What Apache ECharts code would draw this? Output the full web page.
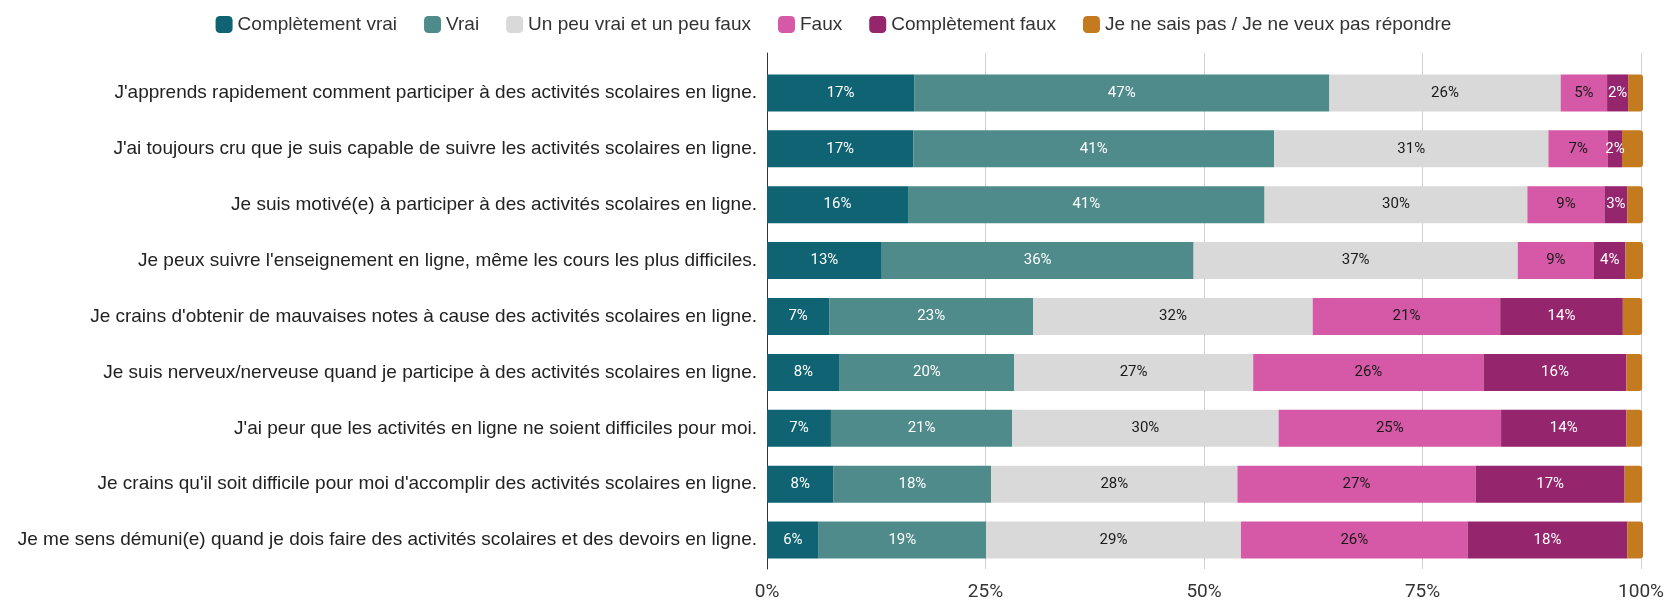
<!DOCTYPE html>
<html>
<head>
<meta charset="utf-8">
<script src="https://cdn.jsdelivr.net/npm/echarts@6/dist/echarts.min.js"></script>
<style>
  html, body { margin: 0; padding: 0; background: #fff; }
  #chart { width: 1667px; height: 602px; }
</style>
</head>
<body>
<div id="chart"></div>
<script>
// Statements (top to bottom)
const statements = [
  "J'apprends rapidement comment participer à des activités scolaires en ligne.",
  "J'ai toujours cru que je suis capable de suivre les activités scolaires en ligne.",
  "Je suis motivé(e) à participer à des activités scolaires en ligne.",
  "Je peux suivre l'enseignement en ligne, même les cours les plus difficiles.",
  "Je crains d'obtenir de mauvaises notes à cause des activités scolaires en ligne.",
  "Je suis nerveux/nerveuse quand je participe à des activités scolaires en ligne.",
  "J'ai peur que les activités en ligne ne soient difficiles pour moi.",
  "Je crains qu'il soit difficile pour moi d'accomplir des activités scolaires en ligne.",
  "Je me sens démuni(e) quand je dois faire des activités scolaires et des devoirs en ligne."
];

// Answer shares (%) per statement
const completementVrai = [16.8, 16.7, 16.1, 13.1, 7.1, 8.3, 7.3, 7.6, 5.9];
const vrai             = [47.4, 41.2, 40.7, 35.6, 23.3, 19.9, 20.7, 18.0, 19.1];
const unPeu            = [26.4, 31.3, 30.0, 37.0, 31.9, 27.3, 30.4, 28.1, 29.1];
const faux             = [5.3, 6.8, 8.8, 8.7, 21.4, 26.3, 25.4, 27.2, 25.9];
const completementFaux = [2.4, 1.6, 2.6, 3.6, 14.0, 16.3, 14.3, 17.0, 18.2];
const nsp              = [1.7, 2.5, 1.8, 2.2, 2.2, 1.8, 1.8, 2.0, 1.8];

const seriesNames = [
  "Complètement vrai",
  "Vrai",
  "Un peu vrai et un peu faux",
  "Faux",
  "Complètement faux",
  "Je ne sais pas / Je ne veux pas répondre"
];

const xTicks = [0, 25, 50, 75, 100];

const palette = ["#0f6372", "#4f8b8b", "#d9d9d9", "#d659a8", "#95256d", "#c47a1e"];
const labelColors = ["#ffffff", "#ffffff", "#1a1a1a", "#1a1a1a", "#ffffff", "#1a1a1a"];
const seriesData = [completementVrai, vrai, unPeu, faux, completementFaux, nsp];

const chart = echarts.init(document.getElementById('chart'), null, { renderer: 'canvas' });

const barSeries = seriesData.map((data, i) => ({
  name: seriesNames[i],
  type: 'bar',
  stack: 'total',
  xAxisIndex: 0,
  yAxisIndex: 0,
  barWidth: 37,
  data: data,
  itemStyle: {
    color: palette[i],
    borderRadius: i === 5 ? [0, 3, 3, 0] : 0
  },
  label: {
    show: i !== 5,
    position: 'inside',
    color: labelColors[i],
    fontFamily: 'Roboto',
    fontSize: 15,
    formatter: p => Math.round(p.value) + '%'
  },
  emphasis: { disabled: true },
  z: 3
}));

chart.setOption({
  animation: false,
  backgroundColor: '#ffffff',
  color: palette,
  legend: {
    top: 10,
    left: 'center',
    itemWidth: 17,
    itemHeight: 17,
    itemGap: 27,
    icon: 'roundRect',
    textStyle: { fontFamily: 'Liberation Sans', fontSize: 19, color: '#333' },
    data: seriesNames
  },
  grid: [
    // bars
    { left: 767, right: 24, top: 65, height: 503, containLabel: false },
    // frame: gridlines and axes extending slightly beyond the bars
    { left: 767, right: 24, top: 53, height: 524, containLabel: false }
  ],
  xAxis: [
    {
      gridIndex: 0, type: 'value', min: 0, max: 100, interval: 25,
      axisLine: { show: false }, axisTick: { show: false },
      axisLabel: { show: false }, splitLine: { show: false }
    },
    {
      gridIndex: 1, type: 'value', min: 0, max: 100, interval: 25,
      axisLine: { show: false }, axisTick: { show: false },
      splitLine: { show: true, lineStyle: { color: '#d0d0d0', width: 1 } },
      axisLabel: {
        margin: 14,
        fontFamily: 'Roboto', fontSize: 19, color: '#333',
        formatter: v => (xTicks.includes(v) ? v + '%' : '')
      }
    }
  ],
  yAxis: [
    {
      gridIndex: 0, type: 'category', data: statements, inverse: true,
      axisLine: { show: false }, axisTick: { show: false },
      axisLabel: {
        margin: 10,
        fontFamily: 'Liberation Sans', fontSize: 19, color: '#222'
      }
    },
    {
      gridIndex: 1, type: 'value', min: 0, max: 1,
      axisLine: { show: true, onZero: false, lineStyle: { color: '#333', width: 1 } },
      axisTick: { show: false }, axisLabel: { show: false },
      splitLine: { show: false }
    }
  ],
  series: barSeries
});
</script>
</body>
</html>
